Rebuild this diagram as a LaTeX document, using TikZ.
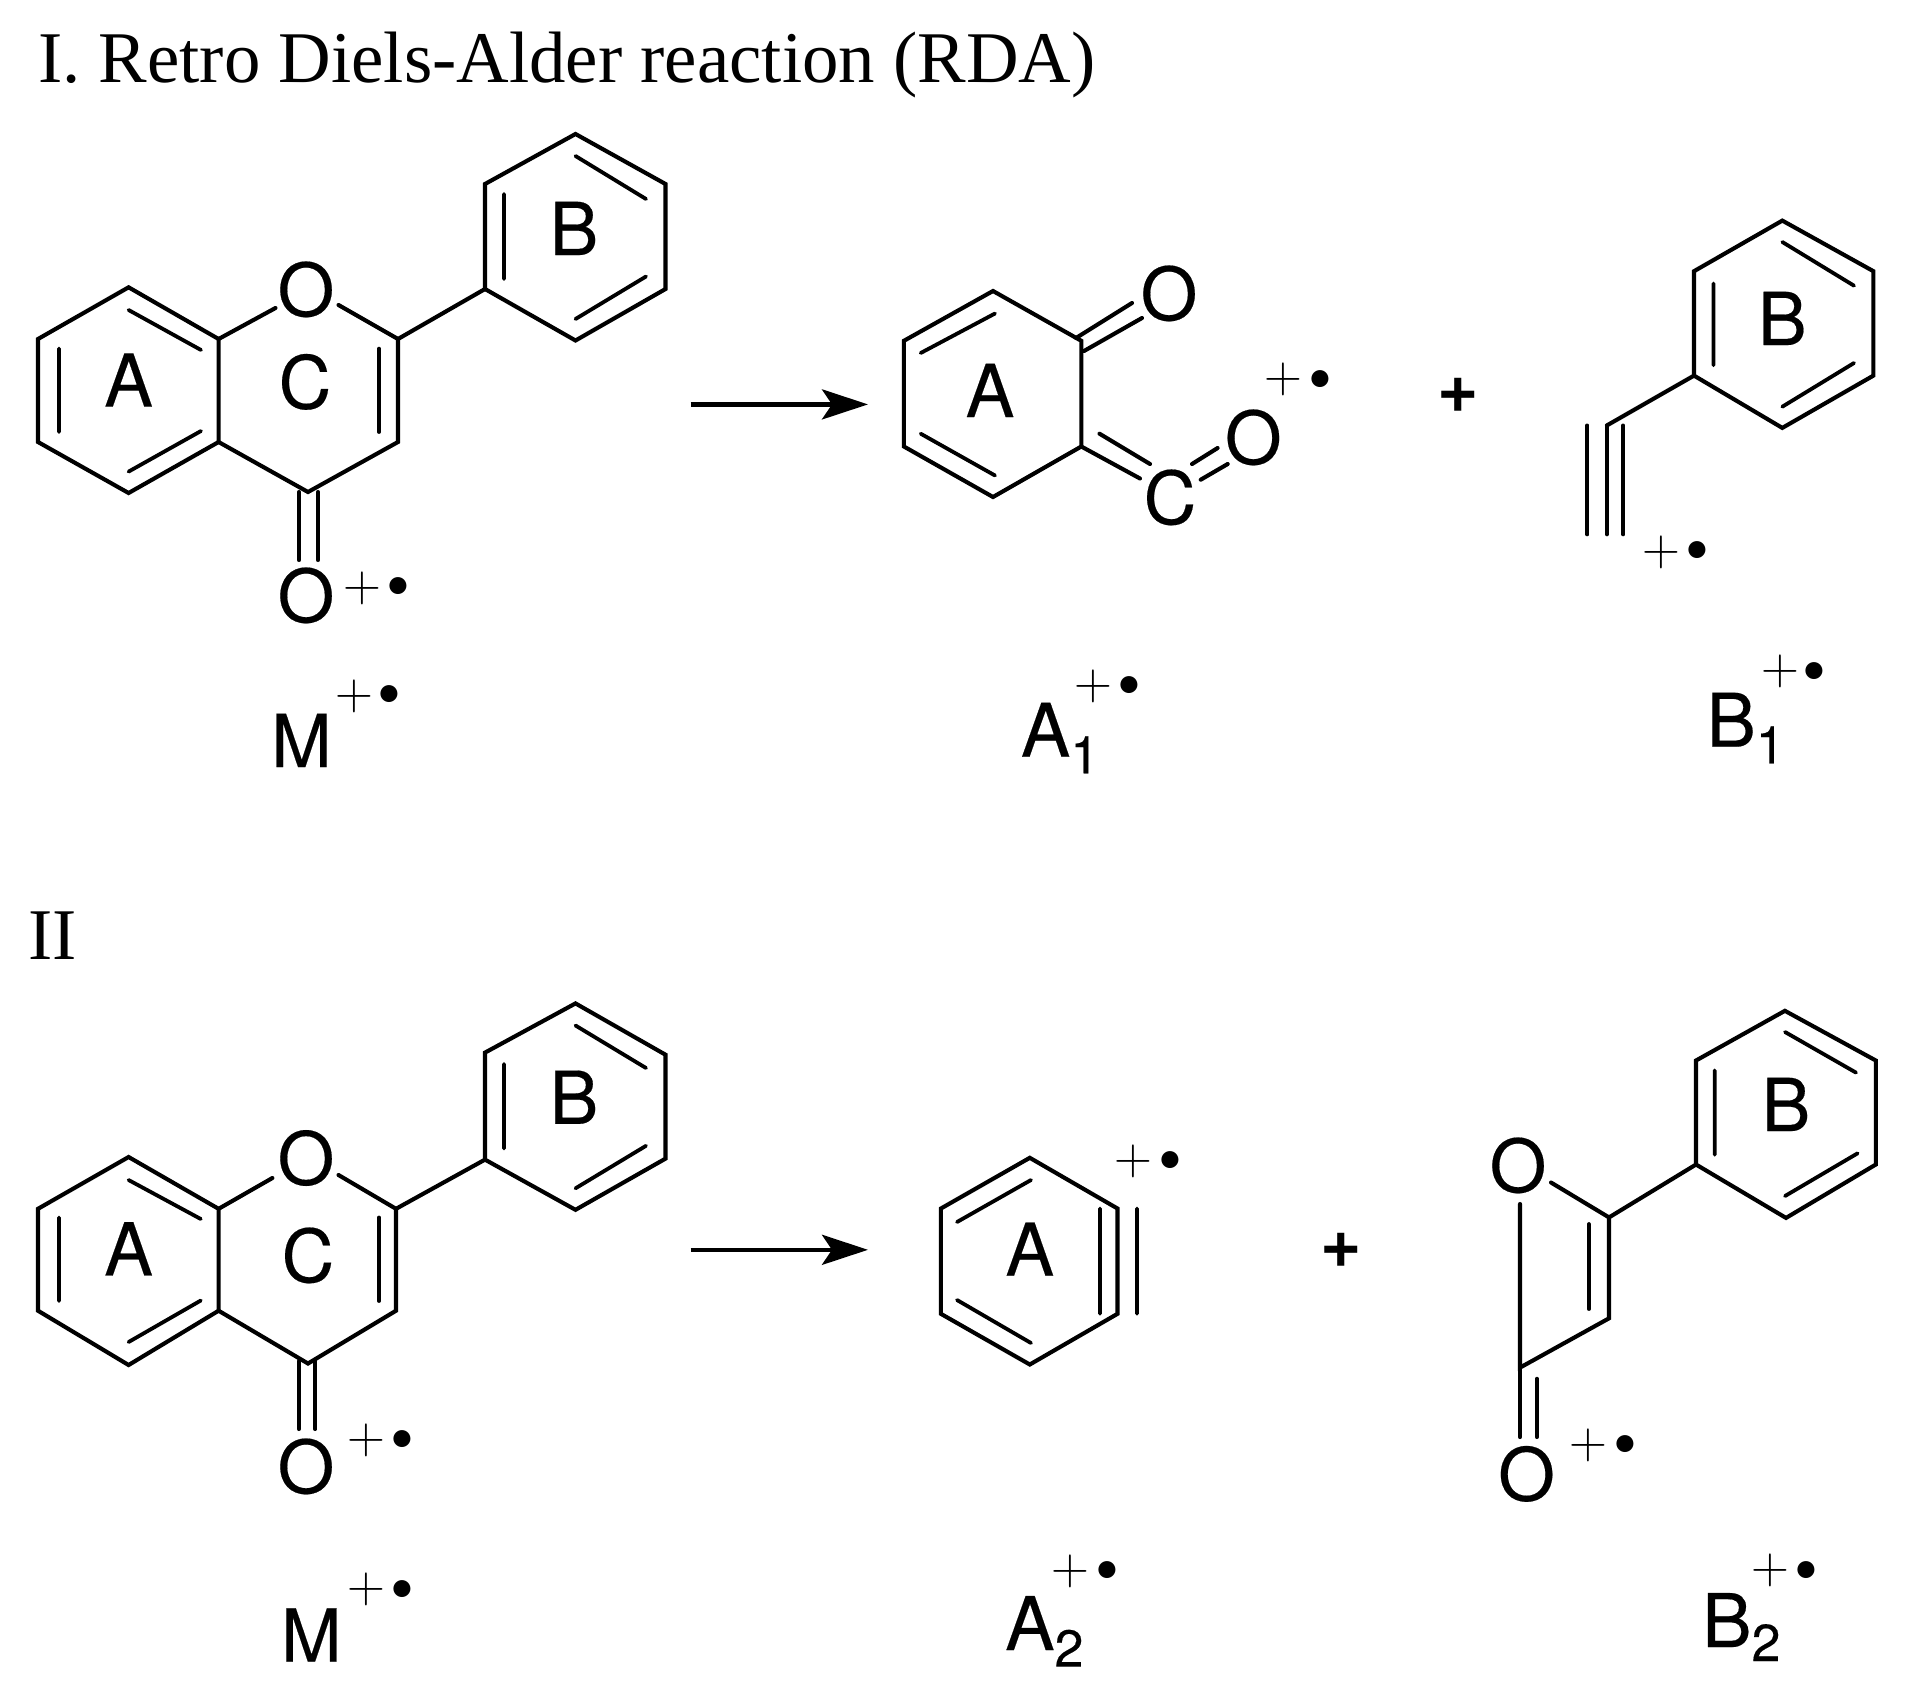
\documentclass[tikz,border=0pt]{standalone}
\usepackage{fontspec}
\setmainfont{Liberation Serif}
\setsansfont{TeX Gyre Heros}
\newfontfamily\heros[FakeBold=0.25]{TeX Gyre Heros}
\newfontfamily\lmplus{Latin Modern Roman}
\usetikzlibrary{arrows.meta}
\tikzset{
  bond/.style={line width=4.1pt,line cap=round,line join=miter,black},
  inner/.style={line width=3.8pt,line cap=round,black},
  rxn/.style={line width=4.4pt,-{Stealth[length=46pt,width=30pt,inset=10pt]}},
  title/.style={anchor=base west,inner sep=0pt,font=\fontsize{72.8}{80}\selectfont},
  lab/.style={anchor=base,inner sep=0pt,font=\heros\fontsize{73}{75}\selectfont},
  labw/.style={anchor=base west,inner sep=0pt,font=\heros\fontsize{74}{75}\selectfont},
  thinplus/.style={anchor=base,inner sep=0pt,yshift=-13.1pt,font=\lmplus\fontsize{52.5}{55}\selectfont},
  dotmark/.style={anchor=base,inner sep=0pt,yshift=-22.2pt,font=\sffamily\fontsize{68}{70}\selectfont},
  boldplus/.style={anchor=base,inner sep=0pt,yshift=-17.9pt,font=\sffamily\bfseries\fontsize{71}{75}\selectfont}
}
\newcommand{\radmark}[5]{%
  \node[thinplus] (#1p) at (#2,#3) {+};
  \node[dotmark] (#1d) at (#4,#5) {•};}
\newcommand{\subtext}[2]{{\fontsize{52}{55}\selectfont\raisebox{#1}{#2}}}
\begin{document}
\begin{tikzpicture}[x=1pt,y=-1pt]
\useasboundingbox (0,0) rectangle (1918,1703);
\fill[white] (0,0) rectangle (1918,1703);
% titles
\node[title] (t1) at (38,82) {I. Retro Diels-Alder reaction (RDA)};
\node[title] (t2) at (28,959) {II};

% --- Section I: flavone
\draw[bond] (128.6,287.3) -- (38,339) -- (38,442) -- (128.6,493) -- (218.6,442) -- (218.6,339) -- cycle;
\draw[inner] (128.6,310) -- (201,350) (59,348.6) -- (59,432) (128.6,471.6) -- (201,431);
\draw[bond] (218.6,339) -- (275.5,308) (338.5,305) -- (398,339) -- (398,442) -- (308,492) -- (218.6,442);
\draw[inner] (379,348.6) -- (379,432);
\draw[bond] (398,339) -- (485,289);
\draw[bond] (485,184) -- (575.5,134) -- (665.5,184) -- (665.5,289) -- (575.5,340.5) -- (485,289) -- cycle;
\draw[inner] (575.5,156) -- (646,199) (504,194) -- (504,279) (575.5,319) -- (646,276.5);
\draw[bond] (299,492) -- (299,560) (318,492) -- (318,560);
\node[lab] (a1) at (128.6,406.6) {A};
\node[lab] (c1) at (305,408.5) {C};
\node[lab] (b1) at (574,255) {B};
\node[lab] (o1) at (306,316) {O};
\node[lab] (o2) at (306,622) {O};
\radmark{r1}{362.4}{588}{398}{587}
\node[lab] (m1) at (301.5,767) {M};
\radmark{r2}{354}{696.6}{389}{695.5}
\coordinate (ar1s) at (690.6,404.4);
\coordinate (ar1e) at (868,404.4);
\draw[rxn] (ar1s) -- (ar1e);

% --- A1
\draw[bond] (993,291) -- (903.9,340.8) -- (903.9,446.5) -- (993,497) -- (1081.3,446.5) -- (1081.3,340.8) -- cycle;
\draw[inner] (920.7,353) -- (995,313.5) (920.7,433.7) -- (995,475.5);
\draw[bond] (1076,338) -- (1132,303) (1084,351) -- (1142,318);
\draw[bond] (1081.3,446.5) -- (1140,478.5) (1099.5,433.7) -- (1150,464);
\draw[bond] (1192,464) -- (1217.6,448) (1200.7,479.7) -- (1227.7,464);
\node[lab] (a2) at (990,417) {A};
\node[lab] (o3) at (1169,320) {O};
\node[lab] (c2) at (1170,524) {C};
\node[lab] (o4) at (1253.3,464) {O};
\radmark{r3}{1283.7}{379}{1320}{380}
\node[labw] (a1lab) at (1020.7,756.7) {A\subtext{-16.6pt}{1}};
\radmark{r4}{1093.7}{686.3}{1129.3}{686.7}
\node[boldplus] (p1) at (1457.8,394.7) {+};

% --- B1
\draw[bond] (1782.3,220.6) -- (1694,271.2) -- (1694,375.6) -- (1782.3,427.9) -- (1873.4,375.6) -- (1873.4,271.2) -- cycle;
\draw[inner] (1782.3,242) -- (1854,285.7) (1713.5,283.6) -- (1713.5,365.3) (1782.3,406.7) -- (1854,363);
\draw[bond] (1694,375.6) -- (1606.9,425.4);
\draw[inner] (1587.3,425.4) -- (1587.3,534.4) (1606.9,425.4) -- (1606.9,534.4) (1623.2,425.4) -- (1623.2,534.4);
\node[lab] (b2) at (1782.3,345) {B};
\radmark{r5}{1661.5}{552}{1697.3}{551.4}
\node[labw] (b1lab) at (1706.3,746.7) {B\subtext{-16.6pt}{1}};
\radmark{r6}{1780}{671.7}{1814.7}{672.3}

% --- Section II: flavone
\draw[bond] (128.6,1157) -- (38,1208.8) -- (38,1310.7) -- (128.6,1365) -- (218.6,1310.7) -- (218.6,1208.8) -- cycle;
\draw[inner] (128.6,1180) -- (200.8,1219) (59,1217.5) -- (59,1301) (128.6,1342) -- (200.8,1300.5);
\draw[bond] (218.6,1208.8) -- (272.4,1178) (338.5,1175) -- (396,1208.8) -- (396,1310.7) -- (308,1363.5) -- (218.6,1310.7);
\draw[inner] (379,1217.5) -- (379,1301);
\draw[bond] (396,1208.8) -- (485,1159.6);
\draw[bond] (485,1052.6) -- (575.5,1003.4) -- (665.5,1054.7) -- (665.5,1158.6) -- (575.5,1209.8) -- (485,1159.6) -- cycle;
\draw[inner] (575.5,1025.5) -- (646,1068) (504,1063.9) -- (504,1148.4) (575.5,1188.3) -- (646,1145.8);
\draw[bond] (298.8,1361) -- (298.8,1429) (315.3,1361) -- (315.3,1429);
\node[lab] (a3) at (128.6,1275.4) {A};
\node[lab] (c3) at (308,1282) {C};
\node[lab] (b3) at (574,1123.8) {B};
\node[lab] (o5) at (306,1184.6) {O};
\node[lab] (o6) at (306,1493) {O};
\radmark{r7}{366}{1440}{402.8}{1440}
\node[lab] (m2) at (311.3,1661.5) {M};
\radmark{r8}{366}{1589.8}{402.8}{1589.8}
\coordinate (ar2s) at (690.6,1249.8);
\coordinate (ar2e) at (868,1249.8);
\draw[rxn] (ar2s) -- (ar2e);

% --- A2
\draw[bond] (1029.8,1157.8) -- (940.9,1208.5) -- (940.9,1313.8) -- (1029.8,1364.5) -- (1117.5,1313.8) -- (1117.5,1208.5) -- cycle;
\draw[inner] (957,1222) -- (1031,1180) (957,1300) -- (1031,1343) (1100,1208.5) -- (1100,1313.8) (1137,1208.5) -- (1137,1313.8);
\node[lab] (a4) at (1029.8,1275.7) {A};
\radmark{r9}{1133.7}{1161.4}{1170.7}{1161.4}
\node[labw] (a2lab) at (1005,1650) {A\subtext{-16.6pt}{2}};
\radmark{r10}{1070.7}{1571.6}{1107.7}{1571.6}
\node[boldplus] (p2) at (1341.5,1249.7) {+};

% --- B2
\draw[bond] (1520,1204) -- (1520,1367.6) -- (1609,1318.3) -- (1609,1217.4) -- (1551,1182.5);
\draw[inner] (1588.8,1224) -- (1588.8,1309);
\draw[bond] (1609,1217.4) -- (1696,1164.5);
\draw[bond] (1696,1060.5) -- (1784.9,1010.8) -- (1875.8,1060.5) -- (1875.8,1164.5) -- (1786,1217.9) -- (1696,1164.5) -- cycle;
\draw[inner] (1785,1032) -- (1856,1072.6) (1714.7,1070.4) -- (1714.7,1154.7) (1785,1196) -- (1857.6,1153.3);
\draw[bond] (1520,1367.6) -- (1520,1437) (1536.9,1378.8) -- (1536.9,1437);
\node[lab] (o7) at (1518,1192) {O};
\node[lab] (o8) at (1526.5,1500.5) {O};
\node[lab] (b4) at (1786,1131) {B};
\radmark{r11}{1588.8}{1445}{1625}{1445}
\node[labw] (b2lab) at (1702,1647) {B\subtext{-14pt}{2}};
\radmark{r12}{1770}{1570.7}{1806.3}{1571.6}
\end{tikzpicture}
\end{document}
